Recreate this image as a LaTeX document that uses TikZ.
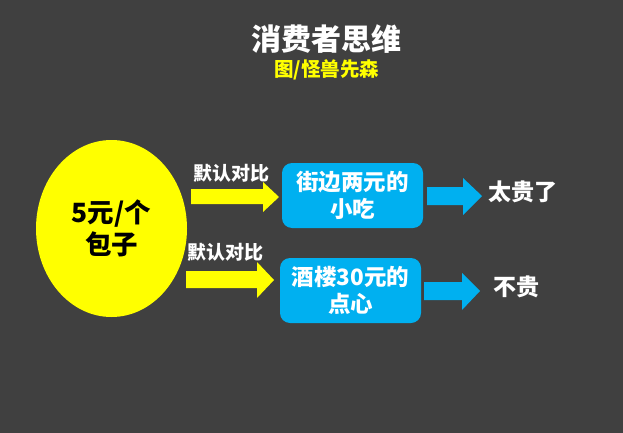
\documentclass[tikz,border=0pt]{standalone}
\usepackage{fontspec}
\setmainfont{Noto Sans CJK SC}
\newfontfamily\cjk{Noto Sans CJK SC}
\usetikzlibrary{shapes.geometric}
\definecolor{bg}{HTML}{404040}
\definecolor{ylw}{HTML}{FFFF00}
\definecolor{skyb}{HTML}{00B0F0}
\tikzset{
  bluebox/.style={fill=skyb, draw=none, rounded corners=10pt, minimum width=141pt, minimum height=65pt, inner sep=0pt, align=center, text=white, font=\cjk\bfseries\fontsize{22.5}{27}\selectfont},
  whitelbl/.style={text=white, font=\cjk\bfseries\fontsize{19}{22}\selectfont, inner sep=0pt},
  resultlbl/.style={text=white, font=\cjk\bfseries\fontsize{23}{24}\selectfont, inner sep=0pt},
}
\begin{document}
\begin{tikzpicture}[x=1pt,y=-1pt]
\fill[bg] (0,0) rectangle (623,433);
\useasboundingbox (0,0) rectangle (623,433);
% title
\node[text=white, font=\cjk\bfseries\fontsize{30}{32}\selectfont, inner sep=0pt] (title) at (326,39) {消费者思维};
\node[text=ylw, font=\cjk\bfseries\fontsize{19.5}{20}\selectfont, inner sep=0pt] (sub) at (326.5,70) {图/怪兽先森};
% ellipse
\node[ellipse, fill=ylw, draw=none, minimum width=151pt, minimum height=177pt, inner sep=0pt, align=center, font=\cjk\bfseries\fontsize{26.5}{32}\selectfont] (bun) at (111.5,228.5) {5元/个\\包子};
% yellow arrows
\fill[ylw] (191,189) -- (263,189) -- (263,182) -- (279,197) -- (263,212) -- (263,204) -- (191,204) -- cycle;
\fill[ylw] (186,271) -- (257,271) -- (257,262) -- (274,280) -- (257,298) -- (257,288) -- (186,288) -- cycle;
\node[whitelbl] (c1) at (231,173) {默认对比};
\node[whitelbl] (c2) at (225,252) {默认对比};
% boxes
\node[bluebox] (b1) at (352.5,195.5) {街边两元的\\小吃};
\node[bluebox] (b2) at (350.5,290.5) {酒楼30元的\\点心};
% blue arrows
\fill[skyb] (427,187) -- (463,187) -- (463,178) -- (482,196) -- (463,215) -- (463,205) -- (427,205) -- cycle;
\fill[skyb] (424,282) -- (462,282) -- (462,273) -- (480,291) -- (462,310) -- (462,300) -- (424,300) -- cycle;
\node[resultlbl] (r1) at (522.5,192) {太贵了};
\node[resultlbl] (r2) at (516.5,287) {不贵};
\end{tikzpicture}
\end{document}
